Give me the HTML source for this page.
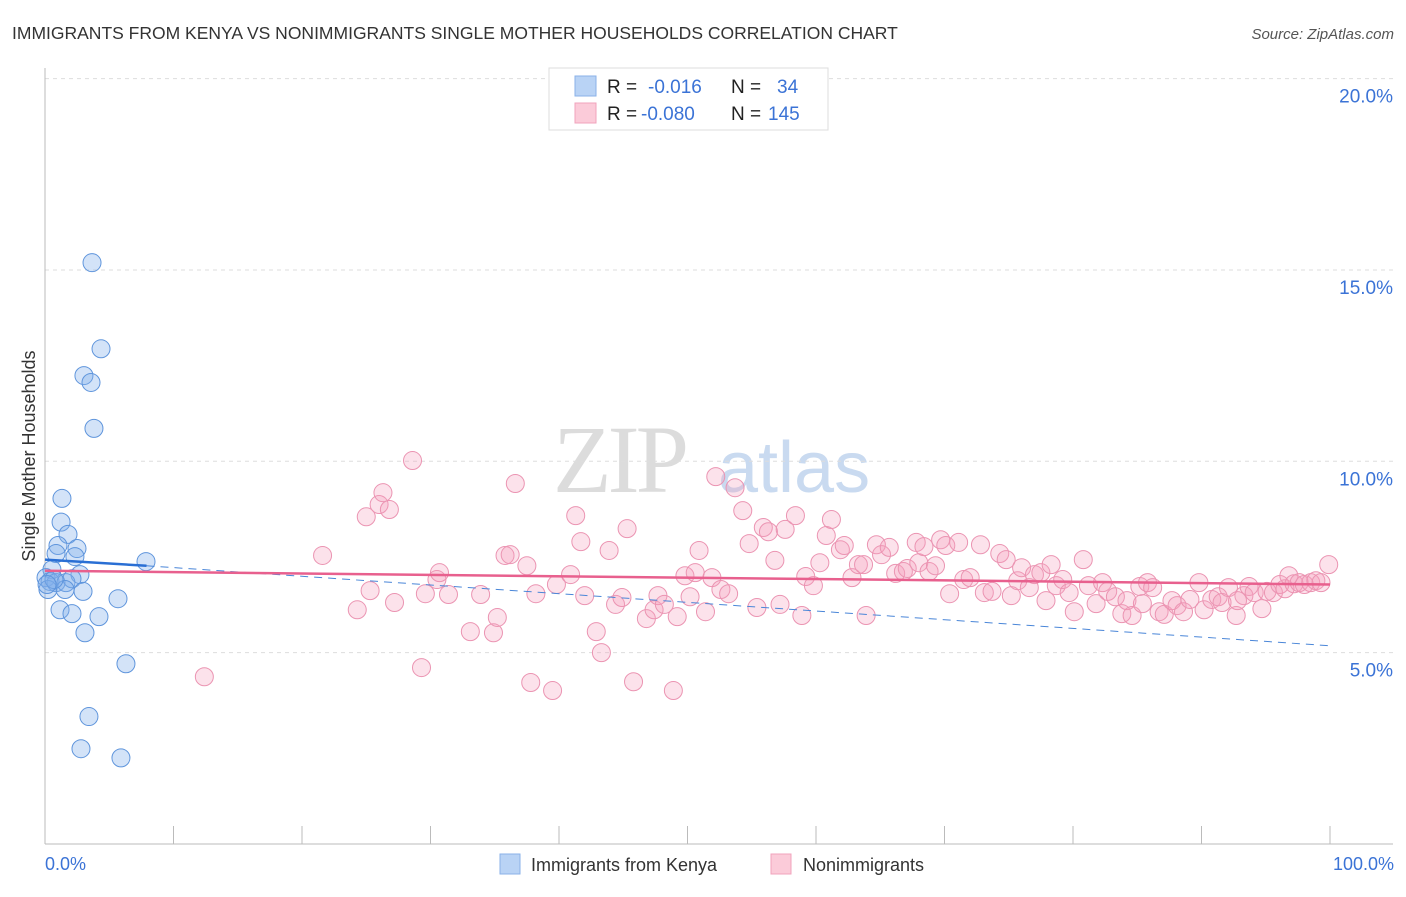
<!DOCTYPE html>
<html><head><meta charset="utf-8"><style>
body{margin:0;background:#fff;font-family:"Liberation Sans",sans-serif;}
svg text{font-family:"Liberation Sans",sans-serif;}
</style></head><body>
<svg id="c" width="1406" height="892" xmlns="http://www.w3.org/2000/svg">
<text x="12" y="39" font-size="17.5" fill="#333">IMMIGRANTS FROM KENYA VS NONIMMIGRANTS SINGLE MOTHER HOUSEHOLDS CORRELATION CHART</text>
<text x="1394" y="39" font-size="15" fill="#555" font-style="italic" text-anchor="end">Source: ZipAtlas.com</text>
<g>
<text x="553" y="492" font-size="96" fill="#dcdcdc" font-family="Liberation Serif" style="font-family:'Liberation Serif',serif" letter-spacing="-4">ZIP</text>
<text x="718" y="492" font-size="72" fill="#c9daf0">atlas</text>
</g>
<g id="grid"></g>
<g id="axes"></g>
<g id="marks"></g>
<text transform="translate(35,456) rotate(-90)" font-size="18" fill="#333" text-anchor="middle">Single Mother Households</text>
<text x="45" y="870" font-size="18" fill="#3b73d6">0.0%</text>
<text x="1394" y="870" font-size="18" fill="#3b73d6" text-anchor="end">100.0%</text>
<g>
<rect x="549" y="68" width="279" height="62" fill="#fff" stroke="#ddd"/>
<rect x="575" y="76" width="21" height="20" fill="#b9d3f5" stroke="#8ab2e8"/>
<rect x="575" y="103" width="21" height="20" fill="#fbcbd9" stroke="#f0a3bc"/>
<text x="607" y="93" font-size="19" fill="#222">R =</text><text x="648" y="93" font-size="19" fill="#3b73d6">-0.016</text>
<text x="731" y="93" font-size="19" fill="#222">N =</text><text x="777" y="93" font-size="19" fill="#3b73d6">34</text>
<text x="607" y="120" font-size="19" fill="#222">R =</text><text x="641" y="120" font-size="19" fill="#3b73d6">-0.080</text>
<text x="731" y="120" font-size="19" fill="#222">N =</text><text x="768" y="120" font-size="19" fill="#3b73d6">145</text>
</g>
<g>
<rect x="500" y="854" width="20" height="20" fill="#b9d3f5" stroke="#8ab2e8"/>
<text x="531" y="871" font-size="18" fill="#333">Immigrants from Kenya</text>
<rect x="771" y="854" width="20" height="20" fill="#fbcbd9" stroke="#f0a3bc"/>
<text x="803" y="871" font-size="18" fill="#333">Nonimmigrants</text>
</g>
</svg>
<script>
const yTicks=[5,10,15,20];
const yTickLabels=["5.0%","10.0%","15.0%","20.0%"];
const kenyaX=[3.66,4.36,3.03,3.58,3.81,1.32,1.25,1.79,1.01,2.49,0.86,2.33,0.54,2.72,0.08,0.39,0.86,1.63,2.10,0.23,1.56,2.96,1.17,5.68,2.10,4.20,3.11,6.30,3.42,2.80,5.91,7.86,0.70,0.16];
const kenyaY=[15.19,12.94,12.24,12.06,10.86,9.03,8.41,8.09,7.80,7.72,7.59,7.51,7.17,7.04,6.96,6.86,6.83,6.83,6.93,6.65,6.65,6.60,6.12,6.41,6.02,5.94,5.52,4.71,3.33,2.49,2.25,7.38,6.91,6.78];
const nonX=[12.4,21.6,24.3,25.0,25.3,26.0,26.3,26.8,27.2,28.6,29.3,29.6,30.5,30.7,31.4,33.1,33.9,34.9,35.2,35.8,36.2,36.6,37.5,37.8,38.2,39.5,39.8,40.9,41.3,41.7,42.0,42.9,43.3,43.9,44.4,44.9,45.3,45.8,46.8,47.4,47.7,48.2,48.9,49.2,49.8,50.2,50.6,50.9,51.4,51.9,52.2,52.6,53.2,53.7,54.3,54.8,55.4,55.9,56.3,56.8,57.2,57.6,58.4,58.9,59.2,59.8,60.3,60.8,61.2,61.9,62.2,62.8,63.3,63.7,63.9,64.7,65.1,65.7,66.2,66.8,67.1,67.8,68.0,68.4,68.8,69.3,69.7,70.1,70.4,71.1,71.5,72.0,72.8,73.1,73.7,74.3,74.8,75.2,75.7,76.0,76.6,77.0,77.5,77.9,78.3,78.7,79.2,79.7,80.1,80.8,81.2,81.8,82.3,82.7,83.3,83.8,84.2,84.6,85.2,85.8,86.2,86.7,87.1,87.7,88.1,88.6,89.1,89.8,90.2,90.8,91.3,91.6,92.1,92.7,93.3,93.7,94.1,94.7,95.1,95.6,96.1,96.5,96.8,97.2,97.6,98.0,98.5,98.9,99.3,99.9,92.8,85.4];
const nonY=[4.37,7.54,6.12,8.55,6.62,8.87,9.18,8.74,6.31,10.02,4.61,6.54,6.91,7.09,6.52,5.55,6.52,5.52,5.92,7.54,7.56,9.42,7.27,4.22,6.54,4.01,6.78,7.04,8.58,7.90,6.49,5.55,5.0,7.67,6.26,6.44,8.24,4.24,5.89,6.12,6.49,6.26,4.01,5.94,7.01,6.46,7.09,7.67,6.07,6.96,9.60,6.65,6.54,9.31,8.71,7.85,6.18,8.27,8.16,7.41,6.26,8.22,8.58,5.97,6.99,6.75,7.35,8.06,8.48,7.69,7.80,6.96,7.30,7.30,5.97,7.82,7.56,7.75,7.07,7.12,7.20,7.88,7.35,7.77,7.12,7.27,7.95,7.80,6.54,7.88,6.91,6.96,7.82,6.57,6.60,7.59,7.43,6.49,6.88,7.22,6.70,7.04,7.09,6.36,7.30,6.75,6.91,6.57,6.07,7.43,6.75,6.28,6.83,6.60,6.46,6.02,6.36,5.97,6.73,6.83,6.70,6.07,6.0,6.36,6.23,6.07,6.39,6.83,6.12,6.39,6.46,6.31,6.70,5.97,6.49,6.73,6.57,6.15,6.60,6.57,6.78,6.67,7.01,6.80,6.83,6.78,6.83,6.88,6.83,7.30,6.36,6.28];
const kenyaTrendX=[0,7.9,100];
const kenyaTrendY=[7.43,7.27,5.18];
const nonTrendX=[0,100];
const nonTrendY=[7.14,6.78];
const NS="http://www.w3.org/2000/svg";
const xs=v=>45+v*12.85, ys=v=>844-v*38.27;
function mk(tag,parent,attrs){const e=document.createElementNS(NS,tag);for(const k in attrs)e.setAttribute(k,attrs[k]);document.getElementById(parent).appendChild(e);return e;}
yTicks.forEach((t,i)=>{
 const g=mk('line','grid',{x1:45,x2:1393,y1:ys(t),y2:ys(t),stroke:'#ddd','stroke-dasharray':'4,4'});
 
 
 const l=mk('text','grid',{x:1393,y:ys(t)+24,'font-size':19,fill:'#3b73d6','text-anchor':'end'});
 l.textContent=yTickLabels[i];
 
 
});
const ax=mk('line','axes',{x1:45,x2:45,y1:68,y2:844,stroke:'#bbb'});


const bx=mk('line','axes',{x1:45,x2:1393,y1:844,y2:844,stroke:'#bbb'});


for(let i=0;i<=10;i++){
 const t=mk('line','axes',{x1:xs(i*10),x2:xs(i*10),y1:826,y2:844,stroke:'#bbb'});
 
 
}
nonX.forEach((x,i)=>{
 const c=mk('circle','marks',{cx:xs(x),cy:ys(nonY[i]),r:9,fill:'rgba(244,160,188,0.3)',stroke:'#eb94b2','stroke-width':1});
 
 
});
kenyaX.forEach((x,i)=>{
 const c=mk('circle','marks',{cx:xs(x),cy:ys(kenyaY[i]),r:9,fill:'rgba(130,175,235,0.35)',stroke:'#5f95dc','stroke-width':1});
 
 
});
const kd=mk('line','marks',{x1:xs(kenyaTrendX[1]),y1:ys(kenyaTrendY[1]),x2:xs(kenyaTrendX[2]),y2:ys(kenyaTrendY[2]),stroke:'#4a86d8','stroke-width':1,'stroke-dasharray':'8,6'});


const pt=mk('line','marks',{x1:xs(nonTrendX[0]),y1:ys(nonTrendY[0]),x2:xs(nonTrendX[1]),y2:ys(nonTrendY[1]),stroke:'#e8608e','stroke-width':2.5});


const kt=mk('line','marks',{x1:xs(kenyaTrendX[0]),y1:ys(kenyaTrendY[0]),x2:xs(kenyaTrendX[1]),y2:ys(kenyaTrendY[1]),stroke:'#2a6fd4','stroke-width':2.5});


</script>
</body></html>
